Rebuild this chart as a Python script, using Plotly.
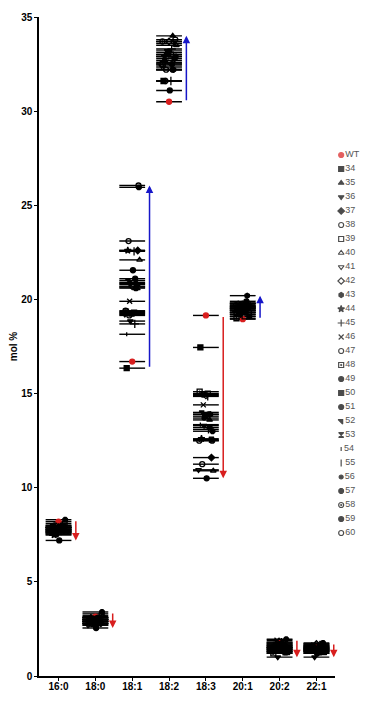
import plotly.graph_objects as go

# ---------------- data ----------------
categories = ["16:0", "18:0", "18:1", "18:2", "18:3", "20:1", "20:2", "22:1"]
series_names = ["WT"] + [str(n) for n in range(34, 61)]

v_16_0 = [8.2, 7.9, 7.8, 7.7, 7.9, 8.0, 7.8, 7.6, 7.7, 7.9, 7.8, 7.5, 7.7, 7.9,
          8.1, 7.6, 7.2, 7.8, 8.0, 7.7, 7.9, 7.6, 7.8, 7.5, 8.3, 7.7, 7.9, 7.6]
v_18_0 = [3.15, 3.0, 2.9, 3.1, 2.8, 3.0, 2.9, 3.2, 2.7, 3.0, 2.9, 3.1, 2.8, 3.0,
          3.3, 2.9, 2.55, 3.0, 2.8, 3.1, 2.9, 2.7, 3.0, 2.8, 3.4, 2.9, 3.1, 2.75]
v_18_1 = [16.7, 16.35, 20.9, 18.85, 22.6, 23.1, 19.3, 22.1, 19.2, 20.7, 20.8, 22.6, 18.7, 19.9,
          26.05, 19.35, 21.55, 19.25, 20.6, 21.0, 20.65, 18.15, 22.55, 20.85, 25.95, 19.4, 21.1, 19.15]
v_18_2 = [30.5, 31.6, 34.0, 33.2, 32.8, 31.6, 33.0, 33.5, 32.4, 33.7, 32.2, 32.9, 33.3, 32.6,
          33.8, 32.5, 31.1, 33.1, 32.2, 32.7, 33.6, 32.3, 31.6, 33.0, 32.9, 33.7, 32.5, 32.2]
v_18_3 = [19.15, 17.45, 13.6, 13.3, 11.6, 11.25, 15.0, 10.9, 10.95, 14.9, 13.9, 12.6, 13.1, 14.4,
          12.5, 15.1, 10.5, 13.8, 13.2, 14.0, 12.55, 13.35, 14.85, 13.7, 13.0, 12.5, 13.9, 14.95]
v_20_1 = [18.95, 19.5, 19.8, 19.2, 19.6, 19.4, 19.1, 19.7, 19.3, 19.5, 20.2, 19.6, 19.4, 19.8,
          19.3, 19.0, 19.7, 19.5, 19.9, 19.2, 19.6, 19.4, 19.8, 19.5, 19.1, 19.7, 19.3, 19.6]
v_20_2 = [1.75, 1.5, 1.3, 1.0, 1.6, 1.4, 1.7, 1.2, 1.5, 1.8, 1.3, 1.6, 1.4, 1.9,
          1.5, 1.2, 1.65, 1.45, 1.35, 1.7, 1.25, 1.55, 1.8, 1.4, 1.95, 1.3, 1.6, 1.5]
v_22_1 = [1.5, 1.4, 1.3, 1.0, 1.5, 1.6, 1.35, 1.2, 1.45, 1.7, 1.25, 1.55, 1.4, 1.65,
          1.3, 1.5, 1.2, 1.45, 1.6, 1.35, 1.7, 1.4, 1.55, 1.3, 1.75, 1.45, 1.6, 1.35]

values_by_category = [v_16_0, v_18_0, v_18_1, v_18_2, v_18_3, v_20_1, v_20_2, v_22_1]
change_direction = ["down", "down", "up", "up", "down", "up", "down", "down"]
y_ticks = [0, 5, 10, 15, 20, 25, 30, 35]

# ---------------- styles ----------------
symbols = ["circle", "square", "triangle-up", "triangle-down", "diamond", "circle-open",
           "square-open", "triangle-up-open", "triangle-down-open", "diamond-open", "hexagon",
           "star", "cross-thin-open", "x-thin-open", "circle-open", "square-open-dot", "circle",
           "square", "circle", "triangle-ne", "hourglass", "line-ns-open", "line-ns-open",
           "circle", "octagon", "circle-open-dot", "circle", "circle-open"]
sizes = [5, 5, 5, 5, 5, 5, 5, 5, 5, 5, 5, 5, 6, 5, 5, 5, 5, 5, 5, 5, 5, 3, 6, 4, 5, 5, 5, 5]
RED = "#d81e1e"
BLUE = "#1616c8"
colors = [RED] + ["black"] * 27
spread = [0, -0.15, 0.1, -0.05, 0.15, -0.1, 0.05, 0.2, -0.2, 0.0, 0.12, -0.12, 0.07,
          -0.07, 0.17, -0.17, 0.02, -0.02, 0.1, -0.1, 0.15, -0.15, 0.05, -0.05, 0.18,
          -0.18, 0.08, -0.08]
HALF = 0.35
ARROW_DX = 0.47

fig = go.Figure()

# mean lines per series and category
lx, ly = [], []
for ci, vals in enumerate(values_by_category):
    for v in vals:
        lx += [ci - HALF, ci + HALF, None]
        ly += [v, v, None]
fig.add_trace(go.Scatter(x=lx, y=ly, mode="lines", line=dict(color="black", width=1.4),
                         hoverinfo="skip", showlegend=False))

# points per series
for si, name in enumerate(series_names):
    xs = [ci + spread[si] for ci in range(len(categories))]
    ys = [values_by_category[ci][si] for ci in range(len(categories))]
    fig.add_trace(go.Scatter(
        x=xs, y=ys, mode="markers", name=name, showlegend=False,
        marker=dict(symbol=symbols[si], size=sizes[si], color=colors[si],
                    line=dict(color=colors[si], width=1.3))))

# arrows spanning the change within each category
for ci, vals in enumerate(values_by_category):
    if change_direction[ci] == "up":
        start, end, col = min(vals), max(vals), BLUE
    else:
        start, end, col = max(vals), min(vals), RED
    fig.add_annotation(x=ci + ARROW_DX, y=end, ax=ci + ARROW_DX, ay=start,
                       xref="x", yref="y", axref="x", ayref="y",
                       showarrow=True, arrowhead=2, arrowsize=1, arrowwidth=1.5,
                       arrowcolor=col, text="")

# custom legend (compact rows)
idx = list(range(len(series_names)))
fig.add_trace(go.Scatter(
    x=[0] * len(idx), y=idx, xaxis="x2", yaxis="y2", mode="markers+text",
    text=series_names, textposition="middle right",
    textfont=dict(family="Liberation Sans, Arial", size=9, color="#555555"),
    marker=dict(symbol=symbols, size=[min(s, 5) for s in sizes], color=colors,
                line=dict(color=colors, width=1.2)),
    hoverinfo="skip", showlegend=False))

# page body has an 8px margin; figure coordinates = page - 8
W, H = 370, 693
L, R, T, B = 24, 2, 9, 25
plot_w = W - L - R
main_end = (326 - L) / plot_w
leg_start = (328 - L) / plot_w
row_px = 14.0
first_row_px = 147.0
top_idx = (T - first_row_px) / row_px
bot_idx = (H - B - first_row_px) / row_px

fig.update_layout(
    width=W, height=H,
    margin=dict(l=L, r=R, t=T, b=B),
    plot_bgcolor="white", paper_bgcolor="white",
    font=dict(family="Liberation Sans, Arial", color="black"),
    showlegend=False,
    xaxis=dict(domain=[0, main_end], range=[-0.53, 7.5], tickmode="array",
               tickvals=list(range(len(categories))), ticktext=categories,
               showline=True, linecolor="black", linewidth=1.5, ticks="outside",
               ticklen=3, tickwidth=1.2, tickcolor="black", showgrid=False,
               zeroline=False, ticklabelstandoff=-3,
               tickfont=dict(size=10, weight="bold")),
    yaxis=dict(range=[0, 35], tickvals=y_ticks, showline=True, linecolor="black",
               linewidth=1.5, ticks="outside", ticklen=3, tickwidth=1.2,
               tickcolor="black", showgrid=False, zeroline=False,
               tickfont=dict(size=10, weight="bold"),
               title=dict(text="mol %", font=dict(size=10, weight="bold"), standoff=4)),
    xaxis2=dict(domain=[leg_start, 1], range=[-0.5, 4], visible=False, fixedrange=True),
    yaxis2=dict(domain=[0, 1], range=[bot_idx, top_idx], visible=False, anchor="x2",
                fixedrange=True),
)

fig.write_html("out.html")
